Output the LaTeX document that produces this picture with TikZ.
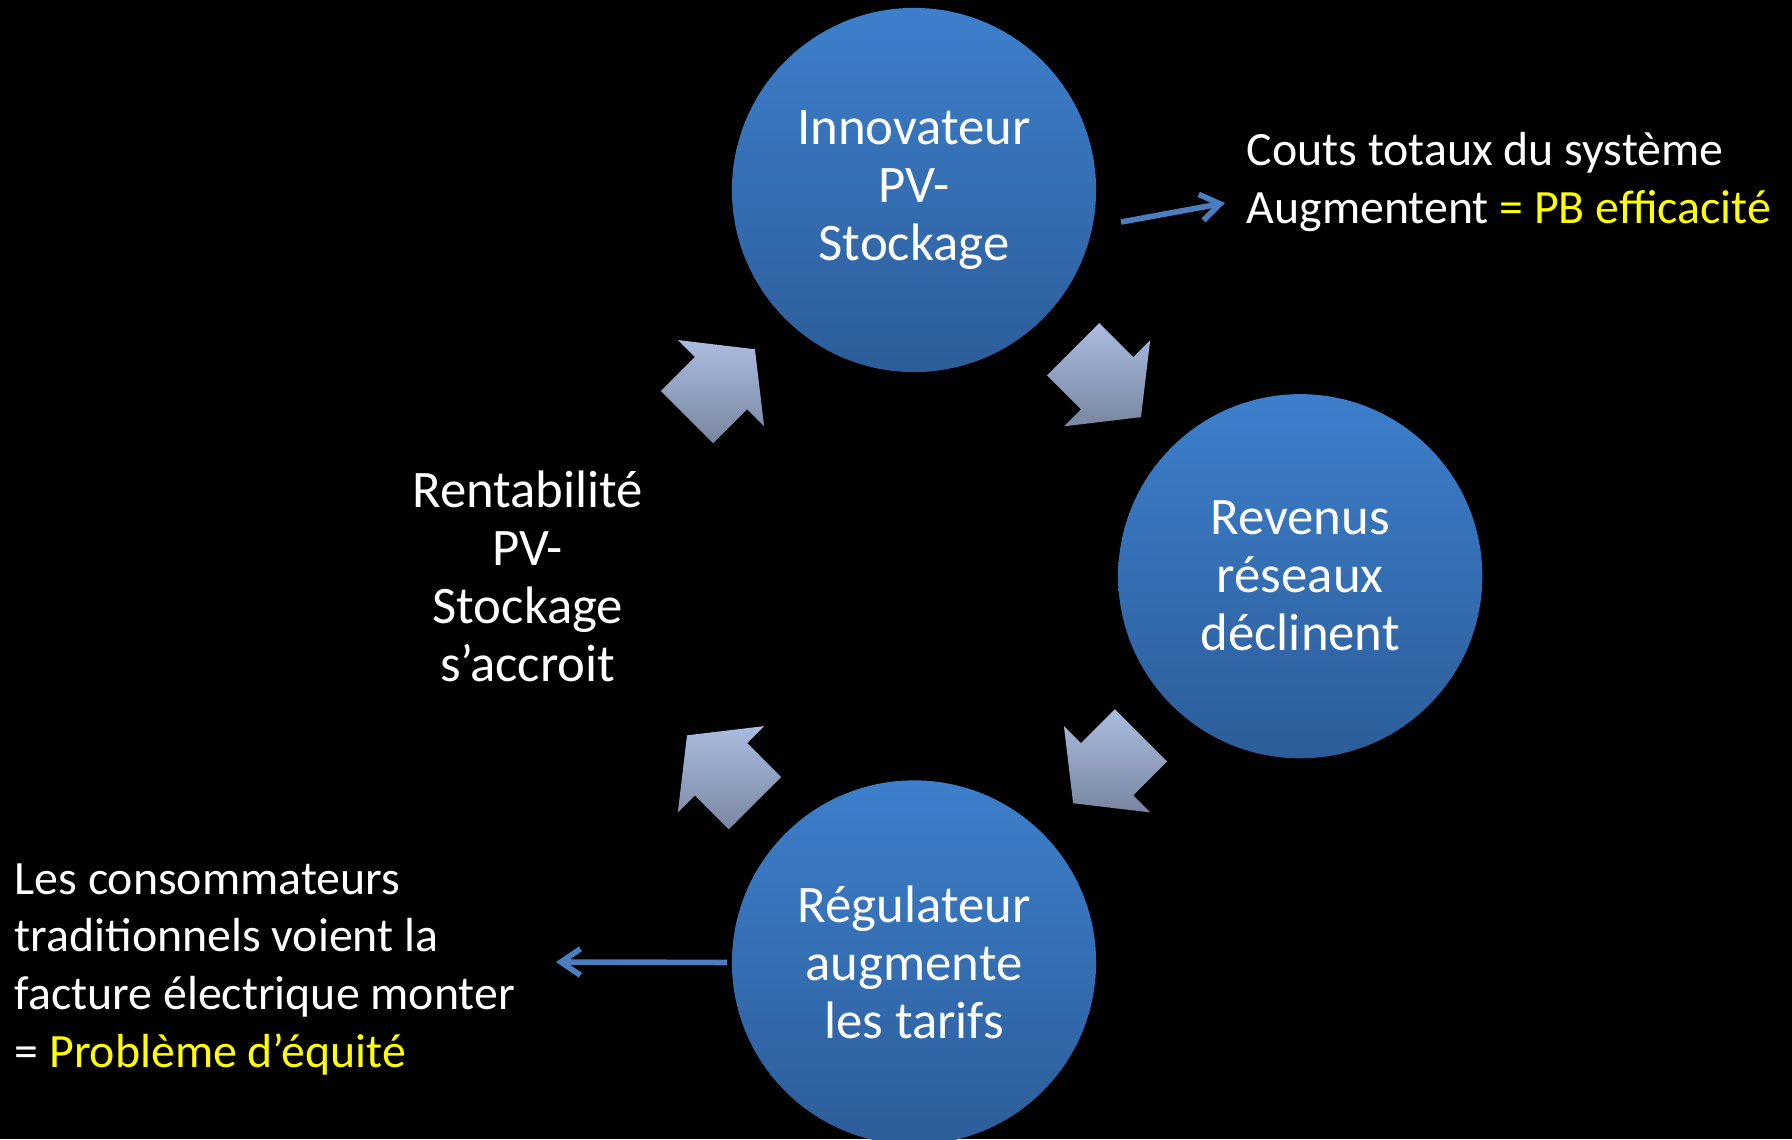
\documentclass[tikz,border=0pt]{standalone}
\usepackage{fontspec}
\setmainfont{Carlito}
\usetikzlibrary{
    arrows.meta,
    positioning,
    calc
}

\definecolor{circtop}{RGB}{61,127,204}
\definecolor{circbot}{RGB}{44,93,153}
\definecolor{arrtop}{RGB}{171,188,225}
\definecolor{arrbot}{RGB}{120,134,160}
\definecolor{linkblue}{RGB}{74,126,193}
\definecolor{highlight}{RGB}{255,255,0}

\begin{document}
\begin{tikzpicture}[
    x=0.01cm, y=-0.01cm,
    node distance=3.86cm,
    cyclenode/.style={circle, minimum size=3.64cm, inner sep=0pt, align=center,
                      text=white, top color=circtop, bottom color=circbot,
                      font=\fontsize{15}{16.5}\selectfont},
    cycletext/.style={align=center, text=white, inner sep=0pt,
                      font=\fontsize{15}{16.5}\selectfont},
    sidetext/.style={align=left, text=white, inner sep=0pt,
                     font=\fontsize{13.6}{16.4}\selectfont},
    blockarrow/.style={top color=arrtop, bottom color=arrbot},
    link/.style={line width=1.6pt, draw=linkblue, -{Straight Barb[length=5.5pt, width=7.5pt]}}
]

    \useasboundingbox (0,0) rectangle (1792,1139);
    \fill[black] (0,0) rectangle (1792,1139);
    \clip (0,0) rectangle (1792,1139);

    % Nodes
    \node (innov) [cyclenode] at (914,190) {Innovateur\\PV-\\Stockage};
    \node (revenus) [cyclenode, below of=innov, xshift=3.86cm] {Revenus\\réseaux\\déclinent};
    \node (regul) [cyclenode, below of=revenus, xshift=-3.86cm] {Régulateur\\augmente\\les tarifs};
    \node (rentab) [cycletext, below of=innov, xshift=-3.86cm] {Rentabilité\\PV-\\Stockage\\s’accroit};
    \coordinate (ctr) at ($(innov)!0.5!(regul)$);

    \node (costs) [sidetext, anchor=west] at (1246,182)
        {Couts totaux du système\\Augmentent \textcolor{highlight}{= PB efficacité}};
    \node (equity) [sidetext, anchor=west] at (14,969)
        {Les consommateurs\\traditionnels voient la\\facture électrique monter\\= \textcolor{highlight}{Problème d’équité}};

    % Cycle arrows
    \foreach \a [evaluate=\a as \d using \a+90] in {-45,45,135,225} {
        \coordinate (mid) at ($(ctr)+(\a:273)$);
        \path[blockarrow] ($(mid)+(\d:-48)+(\a:37)$) -- ($(mid)+(\a:37)$) -- ($(mid)+(\a:61)$)
            -- ($(mid)+(\d:48)$) -- ($(mid)+(\a:-61)$) -- ($(mid)+(\a:-37)$)
            -- ($(mid)+(\d:-48)+(\a:-37)$) -- cycle;
    }

    % Side arrows
    \coordinate (costfrom) at (1121,222);
    \coordinate (costto) at (1225,203);
    \coordinate (equityto) at (556,962);
    \draw [link] (costfrom) -- (costto);
    \draw [link] ([xshift=-0.04cm]regul.west) -- (equityto);

\end{tikzpicture}
\end{document}
